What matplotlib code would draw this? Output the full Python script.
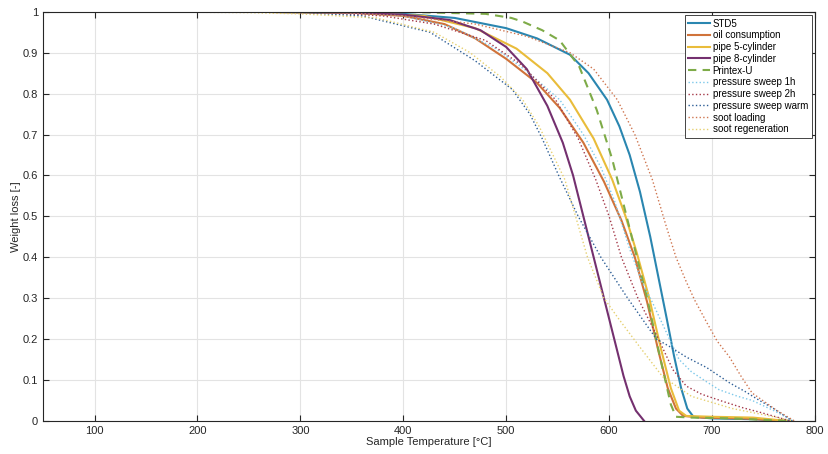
import numpy as np
import matplotlib
matplotlib.use('Agg')
import matplotlib.pyplot as plt

plt.rcParams['font.family'] = ['Liberation Sans', 'DejaVu Sans']

# temperatures [°C] and normalised weight for each sample
std5_T = [130, 250, 350, 400, 450, 500, 530, 562, 580, 598, 610, 620, 630, 640, 648, 656, 663, 670, 676, 682, 700, 740, 777]
std5_W = [1.0, 1.0, 0.998, 0.995, 0.985, 0.96, 0.935, 0.895, 0.85, 0.785, 0.72, 0.65, 0.56, 0.45, 0.35, 0.25, 0.16, 0.08, 0.03, 0.01, 0.006, 0.004, 0.0]

oil_T = [130, 250, 350, 400, 440, 470, 500, 530, 552, 575, 595, 612, 625, 637, 648, 657, 665, 672, 690, 730, 770]
oil_W = [1.0, 1.0, 0.998, 0.99, 0.97, 0.935, 0.885, 0.826, 0.765, 0.68, 0.585, 0.49, 0.40, 0.29, 0.17, 0.08, 0.03, 0.012, 0.008, 0.006, 0.0]

pipe5_T = [130, 250, 350, 420, 470, 510, 540, 562, 585, 603, 616, 627, 639, 650, 660, 668, 675, 700, 740, 772]
pipe5_W = [1.0, 1.0, 0.998, 0.99, 0.96, 0.91, 0.85, 0.785, 0.69, 0.59, 0.5, 0.41, 0.3, 0.18, 0.08, 0.025, 0.012, 0.01, 0.008, 0.0]

pipe8_T = [130, 250, 350, 400, 445, 475, 500, 520, 540, 555, 565, 575, 587, 598, 607, 614, 620, 626, 634]
pipe8_W = [1.0, 1.0, 0.998, 0.993, 0.98, 0.955, 0.914, 0.86, 0.77, 0.68, 0.6, 0.5, 0.38, 0.27, 0.18, 0.11, 0.06, 0.025, 0.0]

printex_T = [50, 200, 400, 480, 505, 516, 535, 552, 571, 588, 603, 613, 625, 637, 650, 660, 665, 680, 720, 772]
printex_W = [1.0, 1.0, 1.0, 0.995, 0.985, 0.976, 0.955, 0.93, 0.866, 0.76, 0.64, 0.54, 0.42, 0.3, 0.15, 0.04, 0.01, 0.008, 0.006, 0.0]

ps1h_T = [130, 250, 330, 400, 450, 490, 520, 552, 575, 592, 605, 620, 632, 642, 655, 668, 680, 695, 707, 725, 739, 760, 779]
ps1h_W = [1.0, 1.0, 0.998, 0.99, 0.96, 0.91, 0.855, 0.785, 0.70, 0.62, 0.54, 0.42, 0.34, 0.29, 0.22, 0.15, 0.12, 0.095, 0.076, 0.06, 0.05, 0.025, 0.0]

ps2h_T = [130, 250, 320, 380, 430, 480, 515, 548, 570, 587, 600, 612, 628, 648, 662, 675, 690, 710, 730, 748, 776]
ps2h_W = [1.0, 1.0, 0.998, 0.99, 0.97, 0.93, 0.87, 0.785, 0.69, 0.59, 0.5, 0.4, 0.3, 0.2, 0.125, 0.085, 0.065, 0.048, 0.032, 0.02, 0.0]

pswarm_T = [130, 250, 300, 360, 426, 470, 506, 523, 535, 551, 570, 592, 618, 646, 660, 675, 695, 717, 732, 746, 760, 772, 778]
pswarm_W = [1.0, 1.0, 0.998, 0.99, 0.95, 0.88, 0.81, 0.75, 0.69, 0.6, 0.5, 0.4, 0.3, 0.2, 0.18, 0.156, 0.13, 0.093, 0.072, 0.05, 0.03, 0.01, 0.0]

sootload_T = [130, 250, 350, 400, 470, 520, 562, 585, 608, 625, 642, 655, 665, 675, 683, 695, 705, 717, 728, 739, 752, 762, 772, 780]
sootload_W = [1.0, 1.0, 0.997, 0.99, 0.97, 0.94, 0.9, 0.86, 0.785, 0.7, 0.59, 0.48, 0.4, 0.34, 0.296, 0.24, 0.195, 0.156, 0.11, 0.068, 0.045, 0.027, 0.012, 0.0]

sootregen_T = [130, 250, 300, 374, 430, 465, 495, 516, 532, 557, 579, 595, 610, 630, 652, 680, 720, 760, 778]
sootregen_W = [1.0, 0.998, 0.995, 0.985, 0.95, 0.9, 0.84, 0.785, 0.72, 0.59, 0.4, 0.3, 0.247, 0.18, 0.108, 0.06, 0.03, 0.01, 0.0]

fig = plt.figure(figsize=(8.29, 4.54), dpi=100)
ax = fig.add_axes([0.052, 0.073, 0.931, 0.901])

ax.plot(std5_T, std5_W, color='#2a86b0', lw=1.5, label='STD5')
ax.plot(oil_T, oil_W, color='#d0733a', lw=1.5, label='oil consumption')
ax.plot(pipe5_T, pipe5_W, color='#e9bc3a', lw=1.5, label='pipe 5-cylinder')
ax.plot(pipe8_T, pipe8_W, color='#74306f', lw=1.5, label='pipe 8-cylinder')
ax.plot(printex_T, printex_W, color='#7eab48', lw=1.5, ls=(0, (4, 3)), label='Printex-U')
ax.plot(ps1h_T, ps1h_W, color='#7cc8ea', lw=1.0, ls=':', label='pressure sweep 1h')
ax.plot(ps2h_T, ps2h_W, color='#a43848', lw=1.0, ls=':', label='pressure sweep 2h')
ax.plot(pswarm_T, pswarm_W, color='#2d5e96', lw=1.0, ls=':', label='pressure sweep warm')
ax.plot(sootload_T, sootload_W, color='#cf7650', lw=1.0, ls=':', label='soot loading')
ax.plot(sootregen_T, sootregen_W, color='#e6d070', lw=1.0, ls=':', label='soot regeneration')

ax.set_xlim(50, 800)
ax.set_ylim(0, 1)
ax.set_xticks(range(100, 801, 100))
ax.set_yticks(np.arange(0, 1.01, 0.1))
ax.set_yticklabels(['0', '0.1', '0.2', '0.3', '0.4', '0.5', '0.6', '0.7', '0.8', '0.9', '1'])
ax.grid(True, color='#e3e3e3', lw=0.8)
ax.set_axisbelow(True)
ax.tick_params(direction='in', top=True, right=True, labelsize=8, colors='#262626', length=4)
for s in ax.spines.values():
    s.set_color('#262626')
    s.set_linewidth(0.8)

ax.set_xlabel('Sample Temperature [°C]', fontsize=8, color='#262626', labelpad=1)
ax.set_ylabel('Weight loss [-]', fontsize=8, color='#262626', labelpad=1)

leg = ax.legend(loc='upper right', fontsize=7, handlelength=2.2, labelspacing=0.18,
                borderpad=0.4, handletextpad=0.3, fancybox=False, framealpha=1,
                edgecolor='#262626', borderaxespad=0.3)
leg.get_frame().set_linewidth(0.6)

fig.savefig('out.png', dpi=100)
